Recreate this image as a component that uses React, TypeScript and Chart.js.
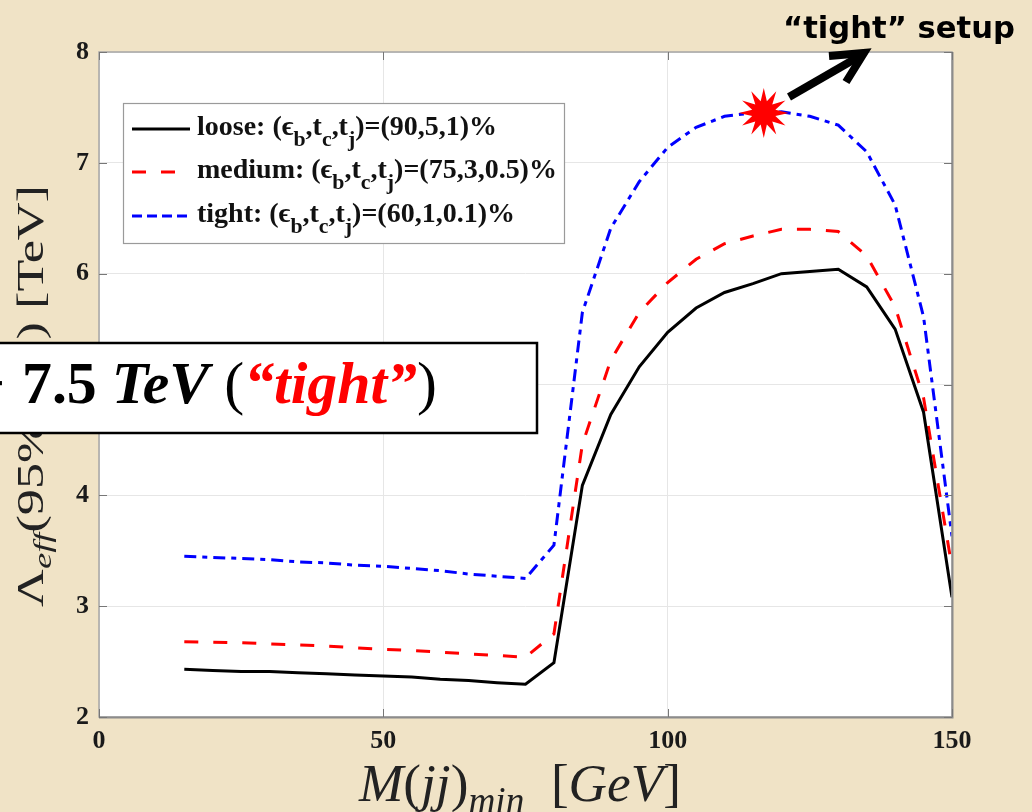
import React, { useEffect, useRef } from "react";
import { Chart, registerables } from "chart.js";

Chart.register(...registerables);

// ---- data ----
const massCuts = [15, 20, 25, 30, 35, 40, 45, 50, 55, 60, 65, 70, 75, 80, 85, 90, 95, 100, 105, 110, 115, 120, 125, 130, 135, 140, 145, 150];
const looseLimits = [2.43, 2.42, 2.41, 2.41, 2.40, 2.39, 2.38, 2.37, 2.36, 2.34, 2.33, 2.31, 2.295, 2.49, 4.09, 4.73, 5.16, 5.47, 5.69, 5.83, 5.91, 6.00, 6.02, 6.04, 5.88, 5.50, 4.75, 3.08];
const mediumLimits = [2.68, 2.675, 2.67, 2.66, 2.65, 2.64, 2.625, 2.61, 2.60, 2.585, 2.57, 2.555, 2.54, 2.75, 4.46, 5.22, 5.65, 5.92, 6.13, 6.27, 6.34, 6.40, 6.40, 6.38, 6.16, 5.70, 4.88, 3.35];
const tightLimits = [3.45, 3.44, 3.43, 3.42, 3.40, 3.39, 3.37, 3.36, 3.34, 3.32, 3.29, 3.27, 3.25, 3.55, 5.65, 6.41, 6.83, 7.14, 7.32, 7.42, 7.45, 7.46, 7.42, 7.34, 7.10, 6.62, 5.61, 3.63];
const xTickValues = [0, 50, 100, 150];
const yTickValues = [2, 3, 4, 5, 6, 7, 8];
const seriesNames = ["loose", "medium", "tight"];
const seriesParams = ["(90,5,1)%", "(75,3,0.5)%", "(60,1,0.1)%"];
const tightSetupPoint = { x: 116.9, y: 7.45 };

const SERIF = "'Liberation Serif', 'Times New Roman', serif";
const seriesColors = ["#000000", "#ff0000", "#0000ff"];
const seriesDashes: number[][] = [[], [14, 15], [12, 6, 5, 6]];

type Seg = { t: string; font: string; dy?: number; color?: string };

function segWidth(ctx: CanvasRenderingContext2D, segs: Seg[]) {
  let w = 0;
  for (const s of segs) {
    ctx.font = s.font;
    w += ctx.measureText(s.t).width;
  }
  return w;
}
function drawSegs(ctx: CanvasRenderingContext2D, segs: Seg[], x: number, y: number, color = "#000") {
  let cx = x;
  ctx.textAlign = "left";
  ctx.textBaseline = "alphabetic";
  for (const s of segs) {
    ctx.font = s.font;
    ctx.fillStyle = s.color || color;
    ctx.fillText(s.t, cx, y + (s.dy || 0));
    cx += ctx.measureText(s.t).width;
  }
}
function fitSize(ctx: CanvasRenderingContext2D, build: (s: number) => Seg[], target: number) {
  const w = segWidth(ctx, build(100));
  return (100 * target) / w;
}

const legendSegs = (i: number) => (s: number): Seg[] => {
  const b = `bold ${s}px ${SERIF}`;
  const sub = `bold ${s * 0.78}px ${SERIF}`;
  const d = s * 0.38;
  return [
    { t: seriesNames[i] + ": (", font: b },
    { t: "\u03F5", font: b },
    { t: "b", font: sub, dy: d },
    { t: ",t", font: b },
    { t: "c", font: sub, dy: d },
    { t: ",t", font: b },
    { t: "j", font: sub, dy: d },
    { t: ")=" + seriesParams[i], font: b },
  ];
};

const yTitleSegs = (s: number): Seg[] => [
  { t: "\u039B", font: `${s}px ${SERIF}` },
  { t: "eff", font: `italic ${s * 0.7}px ${SERIF}`, dy: s * 0.22 },
  { t: "(95% CL) [TeV]", font: `${s}px ${SERIF}` },
];

const xTitleSegs = (s: number): Seg[] => [
  { t: "M", font: `italic ${s}px ${SERIF}` },
  { t: "(", font: `${s}px ${SERIF}` },
  { t: "jj", font: `italic ${s}px ${SERIF}` },
  { t: ")", font: `${s}px ${SERIF}` },
  { t: "min", font: `italic ${s * 0.7}px ${SERIF}`, dy: s * 0.22 },
  { t: "  [", font: `${s}px ${SERIF}` },
  { t: "GeV", font: `italic ${s}px ${SERIF}` },
  { t: "]", font: `${s}px ${SERIF}` },
];

const boxSegs = (s: number): Seg[] => [
  { t: "7.5 ", font: `bold ${s}px ${SERIF}` },
  { t: "TeV", font: `italic bold ${s}px ${SERIF}` },
  { t: " (", font: `${s}px ${SERIF}` },
  { t: "\u201Ctight\u201D", font: `italic bold ${s}px ${SERIF}`, color: "#ff0000" },
  { t: ")", font: `${s}px ${SERIF}` },
];

const decor = {
  id: "decor",
  beforeDraw(chart: any) {
    const { ctx, chartArea: a } = chart;
    ctx.save();
    ctx.fillStyle = "#f0e3c6";
    ctx.fillRect(0, 0, chart.width, chart.height);
    ctx.fillStyle = "#ffffff";
    ctx.fillRect(a.left, a.top, a.right - a.left, a.bottom - a.top);
    ctx.restore();
  },
  afterDraw(chart: any) {
    const { ctx, chartArea: a, scales } = chart;
    const xs = scales.x;
    const ys = scales.y;
    ctx.save();

    // frame
    ctx.strokeStyle = "#a6a6a6";
    ctx.lineWidth = 1.5;
    ctx.strokeRect(a.left, a.top, a.right - a.left, a.bottom - a.top);
    ctx.strokeStyle = "#8c8c8c";
    ctx.lineWidth = 2;
    ctx.beginPath();
    ctx.moveTo(a.right + 0.5, a.top);
    ctx.lineTo(a.right + 0.5, a.bottom + 0.5);
    ctx.lineTo(a.left, a.bottom + 0.5);
    ctx.stroke();

    // inner ticks
    ctx.strokeStyle = "#777";
    ctx.lineWidth = 1;
    ctx.beginPath();
    for (const v of yTickValues) {
      const py = Math.round(ys.getPixelForValue(v)) + 0.5;
      ctx.moveTo(a.left, py);
      ctx.lineTo(a.left + 8, py);
      ctx.moveTo(a.right, py);
      ctx.lineTo(a.right - 8, py);
    }
    for (const v of xTickValues) {
      const px = Math.round(xs.getPixelForValue(v)) + 0.5;
      ctx.moveTo(px, a.bottom);
      ctx.lineTo(px, a.bottom - 8);
      ctx.moveTo(px, a.top);
      ctx.lineTo(px, a.top + 8);
    }
    ctx.stroke();

    // legend
    const lx = 123, ly = 103, lw = 441, lh = 140;
    ctx.fillStyle = "#fff";
    ctx.fillRect(lx, ly, lw, lh);
    ctx.strokeStyle = "#9a9a9a";
    ctx.lineWidth = 1.2;
    ctx.strokeRect(lx + 0.5, ly + 0.5, lw, lh);
    const ls = fitSize(ctx, legendSegs(1), 360);
    const baselines = [135, 178, 222];
    for (let i = 0; i < 3; i++) {
      const by = baselines[i];
      ctx.strokeStyle = seriesColors[i];
      ctx.lineWidth = 3;
      ctx.setLineDash(seriesDashes[i].length ? (i === 2 ? [10, 5] : seriesDashes[i]) : []);
      ctx.beginPath();
      ctx.moveTo(132, by - 6);
      ctx.lineTo(190, by - 6);
      ctx.stroke();
      ctx.setLineDash([]);
      drawSegs(ctx, legendSegs(i)(ls), 197, by, "#111");
    }

    // x title
    const xsz = fitSize(ctx, xTitleSegs, 322);
    drawSegs(ctx, xTitleSegs(xsz), 359, 801, "#222");

    // y title (rotated, stretched along the text direction)
    const ysz = 37;
    const yw = segWidth(ctx, yTitleSegs(ysz));
    ctx.save();
    ctx.translate(43, 607);
    ctx.rotate(-Math.PI / 2);
    ctx.scale(422 / yw, 1);
    drawSegs(ctx, yTitleSegs(ysz), 0, 0, "#222");
    ctx.restore();

    // star marker at the tight setup maximum
    const cx = xs.getPixelForValue(tightSetupPoint.x);
    const cy = ys.getPixelForValue(tightSetupPoint.y);
    ctx.fillStyle = "#ff0000";
    ctx.beginPath();
    const n = 12;
    for (let k = 0; k < n * 2; k++) {
      const r = k % 2 === 0 ? 25 : 12;
      const ang = (Math.PI * k) / n - Math.PI / 2;
      const px = cx + r * Math.cos(ang);
      const py = cy + r * Math.sin(ang);
      if (k === 0) ctx.moveTo(px, py);
      else ctx.lineTo(px, py);
    }
    ctx.closePath();
    ctx.fill();

    // arrow
    ctx.strokeStyle = "#000";
    ctx.lineWidth = 8;
    ctx.lineCap = "butt";
    ctx.beginPath();
    ctx.moveTo(789, 97);
    ctx.lineTo(860, 56);
    ctx.stroke();
    ctx.lineJoin = "miter";
    ctx.beginPath();
    ctx.moveTo(829, 56);
    ctx.lineTo(864, 53);
    ctx.lineTo(846, 82);
    ctx.stroke();

    // "tight" setup label
    const tSegs = (s: number): Seg[] => [{ t: "\u201Ctight\u201D setup", font: `bold ${s}px 'DejaVu Sans', sans-serif` }];
    const tsz = fitSize(ctx, tSegs, 232);
    drawSegs(ctx, tSegs(tsz), 783, 38, "#000");

    // overlay box
    ctx.fillStyle = "#fff";
    ctx.fillRect(-5, 343, 542, 90);
    ctx.strokeStyle = "#000";
    ctx.lineWidth = 2.5;
    ctx.strokeRect(-5, 343, 542, 90);
    const bsz = fitSize(ctx, boxSegs, 415);
    ctx.font = `bold ${bsz}px ${SERIF}`;
    ctx.fillStyle = "#000";
    ctx.textAlign = "right";
    ctx.fillText("\u2212", 5, 403);
    drawSegs(ctx, boxSegs(bsz), 22, 403, "#000");

    ctx.restore();
  },
};

export default function App() {
  const ref = useRef<HTMLCanvasElement>(null);
  useEffect(() => {
    const make = (vals: number[]) => massCuts.map((x, i) => ({ x, y: vals[i] }));
    const allSeries = [looseLimits, mediumLimits, tightLimits];
    const chart = new Chart(ref.current as HTMLCanvasElement, {
      type: "line",
      data: {
        datasets: allSeries.map((vals, i) => ({
          label: seriesNames[i],
          data: make(vals),
          borderColor: seriesColors[i],
          borderWidth: 3,
          borderDash: seriesDashes[i],
          pointRadius: 0,
          tension: 0,
          fill: false,
        })),
      },
      options: {
        responsive: false,
        animation: false,
        devicePixelRatio: 1,
        layout: { padding: { top: 52, right: 80, left: 0, bottom: 0 } },
        plugins: { legend: { display: false }, tooltip: { enabled: false } },
        scales: {
          x: {
            type: "linear",
            min: 0,
            max: 150,
            afterBuildTicks: (s: any) => {
              s.ticks = xTickValues.map((v) => ({ value: v }));
            },
            afterFit: (s: any) => {
              s.height = 95;
            },
            grid: { color: "#e6e6e6", lineWidth: 1, drawTicks: false },
            border: { display: false },
            ticks: {
              padding: 9,
              color: "#1a1a1a",
              maxRotation: 0,
              font: { family: SERIF, weight: "bold", size: 26 },
            },
          },
          y: {
            type: "linear",
            min: 2,
            max: 8,
            afterBuildTicks: (s: any) => {
              s.ticks = yTickValues.map((v) => ({ value: v }));
            },
            afterFit: (s: any) => {
              s.width = 99;
            },
            grid: { color: "#e6e6e6", lineWidth: 1, drawTicks: false },
            border: { display: false },
            ticks: {
              padding: 10,
              color: "#1a1a1a",
              font: { family: SERIF, weight: "bold", size: 26 },
            },
          },
        },
      },
      plugins: [decor],
    } as any);
    return () => chart.destroy();
  }, []);
  return (
    <div style={{ position: "absolute", left: 0, top: 0, width: 1032, height: 812 }}>
      <canvas ref={ref} width={1032} height={812} style={{ display: "block", width: 1032, height: 812 }} />
    </div>
  );
}
